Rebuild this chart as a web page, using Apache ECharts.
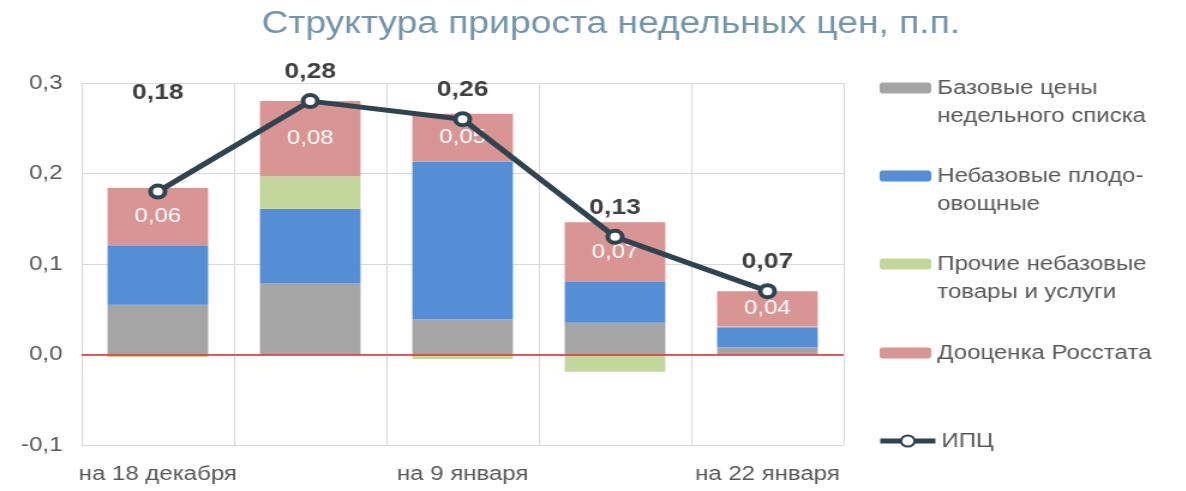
<!DOCTYPE html>
<html>
<head>
<meta charset="utf-8">
<script src="https://cdn.jsdelivr.net/npm/echarts@6/dist/echarts.min.js"></script>
<style>
  html, body { margin: 0; padding: 0; background: #fff; overflow: hidden; }
  /* the source picture is stretched ~1.2x horizontally, so draw narrower and stretch */
  #chart { width: 988px; height: 491px; transform: scaleX(1.2); transform-origin: 0 0; }
</style>
</head>
<body>
<div id="chart"></div>
<script>
const categories = ['на 18 декабря', 'на 25 декабря', 'на 9 января', 'на 15 января', 'на 22 января'];
const baseList = [0.055, 0.079, 0.039, 0.035, 0.008];
const fruitVeg = [0.065, 0.082, 0.174, 0.045, 0.022];
const otherGoods = [-0.003, 0.036, -0.005, -0.019, 0.001];
const rosstat = [0.064, 0.083, 0.053, 0.066, 0.039];
const cpi = [0.18, 0.28, 0.26, 0.13, 0.07];
const yTicks = [-0.1, 0.0, 0.1, 0.2, 0.3];

const names = ['Базовые цены\nнедельного списка', 'Небазовые плодо-\nовощные', 'Прочие небазовые\nтовары и услуги', 'Дооценка Росстата', 'ИПЦ'];
const colors = ['#a5a5a5', '#558ed5', '#c3d69b', '#d99594'];
const lineColor = '#2f4450';
const comma = (v, d) => v.toFixed(d).replace('.', ',');

const chart = echarts.init(document.getElementById('chart'), null, { renderer: 'canvas' });

const font = "'Liberation Sans', Arial, sans-serif";
const legendTops = [88, 176, 264, 353, 441];
const legends = names.map((n, i) => {
  const twoLine = n.includes('\n');
  const isLine = i === 4;
  return {
    data: [n],
    left: isLine ? 731 : 733,
    top: legendTops[i] - (twoLine ? 42 : 14),
    padding: 0,
    itemWidth: isLine ? 46 : 43,
    itemHeight: isLine ? 14 : 11,
    selectedMode: false,
    // blank first line keeps the icon level with the first line of text
    formatter: twoLine ? (s => '\n' + s) : undefined,
    lineStyle: isLine ? { width: 5 } : undefined,
    textStyle: { color: '#595959', fontSize: 20, lineHeight: 28, fontFamily: font }
  };
});

const barSeries = [baseList, fruitVeg, otherGoods, rosstat].map((vals, i) => ({
  name: names[i],
  type: 'bar',
  stack: 'total',
  barWidth: '66%',
  data: vals,
  itemStyle: { color: colors[i] },
  label: i === 3 ? {
    show: true, position: 'inside', color: '#fff', fontSize: 20, fontFamily: font,
    formatter: p => comma(p.value, 2)
  } : { show: false },
  markLine: i === 0 ? {
    silent: true, symbol: 'none', label: { show: false },
    lineStyle: { color: '#e3262a', width: 1.5, type: 'solid' },
    data: [{ yAxis: 0 }]
  } : undefined
}));

chart.setOption({
  backgroundColor: '#fff',
  animation: false,
  title: {
    text: 'Структура прироста недельных цен, п.п.',
    left: 504, top: 4, textAlign: 'center',
    textStyle: { color: '#7295aa', fontSize: 31, fontWeight: 'normal', fontFamily: font }
  },
  legend: legends,
  grid: { left: 68, right: 285, top: 83, bottom: 46 },
  xAxis: {
    type: 'category', data: categories,
    axisLine: { show: false }, axisTick: { show: false },
    axisLabel: { interval: 1, color: '#595959', fontSize: 20, fontFamily: font, margin: 19 },
    splitLine: { show: true, interval: 0, lineStyle: { color: '#d9d9d9', width: 1 } }
  },
  yAxis: {
    type: 'value', min: yTicks[0], max: yTicks[yTicks.length - 1], interval: 0.1,
    axisLine: { show: false }, axisTick: { show: false },
    axisLabel: { color: '#595959', fontSize: 20, fontFamily: font, margin: 16, formatter: v => comma(v, 1) },
    splitLine: { lineStyle: { color: '#d9d9d9', width: 1 } }
  },
  series: [
    ...barSeries,
    {
      name: names[4],
      type: 'line',
      z: 5,
      data: cpi.map((v, i) => i === 0 ? { value: v, label: { offset: [0, -70] } } : v),
      symbol: 'circle', symbolSize: 12,
      lineStyle: { color: lineColor, width: 5 },
      itemStyle: { color: '#fff', borderColor: lineColor, borderWidth: 4 },
      label: {
        show: true, position: 'top', distance: 10, color: '#404040',
        fontSize: 22, fontWeight: 'bold', fontFamily: font,
        formatter: p => comma(p.value, 2)
      }
    }
  ]
});
</script>
</body>
</html>
